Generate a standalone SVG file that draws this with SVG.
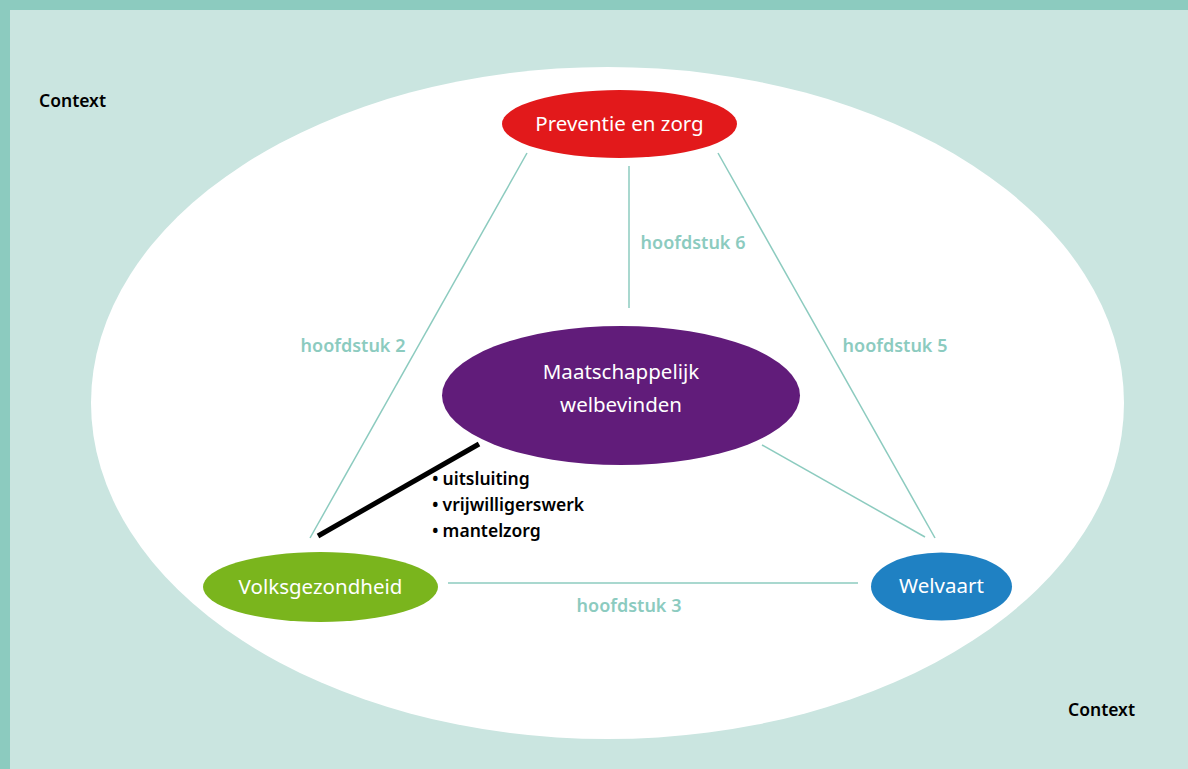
<svg xmlns="http://www.w3.org/2000/svg" width="1188" height="769" viewBox="0 0 1188 769">
<style>
.lbl{font-family:"Noto Sans","Open Sans",sans-serif;font-size:18px;font-weight:600;fill:#8ccbbf;text-anchor:middle}
.node{font-family:"Noto Sans","Open Sans",sans-serif;font-size:20.5px;fill:#ffffff;text-anchor:middle}
.ctx{font-family:"Noto Sans","Open Sans",sans-serif;font-size:17.5px;font-weight:600;fill:#000000}
.bul{font-family:"Noto Sans","Open Sans",sans-serif;font-size:17.5px;font-weight:600;fill:#000000}
.con{stroke:#8ccbbf;stroke-width:1.5;fill:none}
</style>
<rect x="0" y="0" width="1188" height="769" fill="#8ccbbf"/>
<rect x="10" y="10" width="1178" height="759" fill="#cae5e0"/>
<ellipse cx="607.5" cy="403" rx="516.5" ry="336" fill="#ffffff"/>
<text class="ctx" x="39" y="107">Context</text>
<text class="ctx" x="1068" y="716">Context</text>
<g id="connectors">
<line class="con" x1="527" y1="153" x2="310" y2="538"/>
<line class="con" x1="629" y1="166" x2="629" y2="308"/>
<line class="con" x1="718" y1="153" x2="935" y2="538"/>
<line class="con" x1="762" y1="445" x2="925" y2="537"/>
<line class="con" x1="448" y1="583" x2="858" y2="583"/>
<line x1="318" y1="536" x2="479" y2="444" stroke="#000000" stroke-width="5"/>
<text class="lbl" x="693" y="249">hoofdstuk 6</text>
<text class="lbl" x="353" y="352">hoofdstuk 2</text>
<text class="lbl" x="895" y="352">hoofdstuk 5</text>
<text class="lbl" x="629" y="612">hoofdstuk 3</text>
</g>
<g id="preventie">
<ellipse cx="619.5" cy="124" rx="117.5" ry="34" fill="#e2191b"/>
<text class="node" x="619.5" y="131">Preventie en zorg</text>
</g>
<g id="maatschappelijk">
<ellipse cx="621" cy="395.5" rx="179" ry="69.5" fill="#611c7a"/>
<text class="node" x="621" y="379">Maatschappelijk</text>
<text class="node" x="621" y="412">welbevinden</text>
</g>
<g id="volksgezondheid">
<ellipse cx="320.5" cy="587" rx="117.5" ry="35" fill="#7ab51d"/>
<text class="node" x="320.5" y="594">Volksgezondheid</text>
</g>
<g id="welvaart">
<ellipse cx="941.5" cy="586.5" rx="70.5" ry="34" fill="#1f81c3"/>
<text class="node" x="941.5" y="593">Welvaart</text>
</g>
<g id="bullets">
<text class="bul" x="432" y="485">•<tspan dx="4">uitsluiting</tspan></text>
<text class="bul" x="432" y="511">•<tspan dx="4">vrijwilligerswerk</tspan></text>
<text class="bul" x="432" y="537">•<tspan dx="4">mantelzorg</tspan></text>
</g>
</svg>
